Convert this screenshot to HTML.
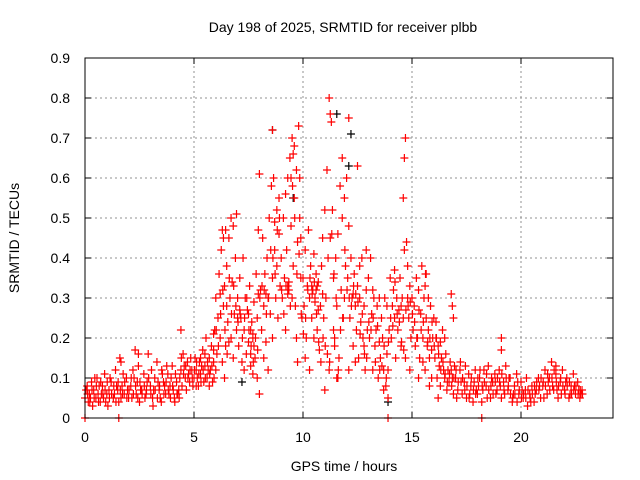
<!DOCTYPE html>
<html><head><meta charset="utf-8"><style>
html,body{margin:0;padding:0;background:#fff;}
svg{display:block;font-family:"Liberation Sans",sans-serif;}
</style></head><body>
<svg id="chart" width="640" height="480" viewBox="0 0 640 480" xmlns="http://www.w3.org/2000/svg">
<rect width="640" height="480" fill="#fff"/>
<text x="343" y="32" font-size="14" text-anchor="middle" fill="#000">Day 198 of 2025, SRMTID for receiver plbb</text>
<text x="344" y="471" font-size="14" text-anchor="middle" fill="#000">GPS time / hours</text>
<text transform="translate(19,238) rotate(-90)" font-size="14" text-anchor="middle" fill="#000">SRMTID / TECUs</text>
<g id="grid"></g>
<g id="ticks"></g>
<g id="black"></g>
<g id="red"></g>
<rect x="85" y="58" width="528" height="360" fill="none" stroke="#000" stroke-width="1"/>
</svg>
<script>
const xTicks = [0, 5, 10, 15, 20];
const yTicks = [0, 0.1, 0.2, 0.3, 0.4, 0.5, 0.6, 0.7, 0.8, 0.9];
const yTickLabels = ["0","0.1","0.2","0.3","0.4","0.5","0.6","0.7","0.8","0.9"];
const redPts = [
[0.0,.05],[0.1,.08],[0.15,.04],[0.2,.06],[0.3,.09],[0.35,.03],[0.4,.07],[0.5,.05],[0.55,.1],[0.6,.06],[0.7,.04],[0.8,.08],[0.85,.05],[0.9,.11],[1.0,.06],[1.05,.03],[1.1,.07],[1.2,.09],[1.3,.05],[1.4,.12],[1.5,.07],[1.55,.04],[1.6,.15],[1.7,.08],[1.8,.06],[1.9,.1],[2.0,.05],[2.1,.08],[2.2,.12],[2.3,.17],[2.35,.06],[2.4,.09],[2.5,.04],[2.6,.07],[2.7,.11],[2.8,.06],[2.9,.16],[3.0,.08],[3.1,.05],[3.2,.1],[3.3,.14],[3.4,.07],[3.5,.04],[3.6,.09],[3.7,.06],[3.8,.11],[3.9,.08],[4.0,.13],[4.1,.05],[4.2,.09],[4.3,.07],[4.4,.12],[4.5,.16],[4.6,.1],[4.7,.14],[4.8,.09],[4.9,.12],
[0.05,.07],[0.25,.05],[0.45,.1],[0.65,.08],[0.75,.06],[0.95,.04],[1.15,.1],[1.35,.06],[1.45,.08],[1.65,.05],[1.75,.11],[1.95,.07],[2.15,.05],[2.25,.1],[2.45,.13],[2.55,.07],[2.75,.05],[2.85,.09],[3.05,.12],[3.15,.07],[3.35,.09],[3.45,.05],[3.55,.11],[3.65,.08],[3.75,.13],[3.85,.06],[3.95,.1],[4.05,.07],[4.15,.11],[4.25,.06],[4.35,.1],[4.45,.08],[4.55,.13],[4.65,.07],[4.75,.11],[4.85,.15],[4.95,.08],[4.4,.22],[1.65,.14],[2.45,.16],
[0.12,.06],[0.22,.04],[0.32,.07],[0.42,.05],[0.52,.08],[0.62,.04],[0.72,.09],[0.82,.06],[0.92,.07],[1.02,.09],[1.12,.05],[1.22,.06],[1.32,.08],[1.42,.04],[1.52,.09],[1.62,.07],[1.72,.06],[1.82,.09],[1.92,.05],[2.02,.07],[2.12,.1],[2.22,.06],[2.32,.08],[2.42,.05],[2.52,.09],[2.62,.06],[2.72,.08],[2.82,.07],[2.92,.1],[3.02,.06],[3.12,.03],[3.22,.07],[3.32,.05],[3.42,.08],[3.52,.12],[3.62,.06],[3.72,.09],[3.82,.07],[3.92,.05],[4.02,.08],[4.12,.04],[4.22,.06],[4.32,.05],[4.42,.15],[4.52,.11],[4.62,.13],[4.72,.1],[4.82,.12],[4.92,.1],
[5.0,.1],[5.05,.15],[5.1,.12],[5.2,.08],[5.25,.14],[5.3,.11],[5.4,.17],[5.45,.09],[5.5,.13],[5.55,.2],[5.6,.1],[5.7,.15],[5.75,.12],[5.8,.18],[5.85,.09],[5.9,.14],[5.95,.22],[5.15,.1],[5.35,.13],[5.65,.12],[5.9,.21],
[5.02,.12],[5.12,.14],[5.22,.11],[5.32,.09],[5.42,.12],[5.52,.1],[5.62,.14],[5.72,.11],[5.82,.13],[5.92,.1],[5.1,.08],[5.3,.15],[5.5,.16],[5.7,.08],[5.9,.17],
[6.0,.3],[6.05,.16],[6.1,.25],[6.15,.36],[6.2,.2],[6.25,.42],[6.3,.14],[6.35,.28],[6.4,.33],[6.45,.18],[6.5,.38],[6.55,.24],[6.6,.45],[6.65,.3],[6.7,.2],[6.75,.34],[6.8,.48],[6.85,.26],[6.9,.4],[6.95,.22],[6.0,.12],[6.2,.31],[6.4,.1],[6.6,.19],[6.8,.15],[6.5,.28],[6.7,.5],[6.3,.47],[6.95,.51],
[6.02,.22],[6.12,.18],[6.22,.26],[6.32,.32],[6.42,.22],[6.52,.16],[6.62,.35],[6.72,.26],[6.82,.33],[6.92,.28],[6.35,.45],[6.45,.47],
[7.0,.3],[7.05,.18],[7.1,.35],[7.15,.25],[7.2,.14],[7.25,.4],[7.3,.22],[7.35,.3],[7.4,.16],[7.45,.27],[7.5,.19],[7.55,.33],[7.6,.13],[7.65,.24],[7.7,.2],[7.75,.29],[7.8,.15],[7.85,.36],[7.9,.25],[7.95,.31],[7.3,.12],[7.5,.26],[7.7,.11],[7.9,.1],[7.95,.47],[8.0,.06],[7.6,.22],[7.75,.18],
[7.02,.24],[7.12,.26],[7.22,.2],[7.32,.25],[7.42,.3],[7.52,.22],[7.62,.18],[7.72,.14],[7.82,.2],[7.92,.17],[7.0,.25],[7.1,.27],[7.6,.16],[7.7,.21],
[8.0,.61],[8.05,.32],[8.1,.22],[8.15,.45],[8.2,.28],[8.25,.36],[8.3,.19],[8.35,.4],[8.4,.3],[8.45,.5],[8.5,.26],[8.55,.58],[8.6,.35],[8.65,.6],[8.7,.42],[8.75,.3],[8.8,.52],[8.85,.25],[8.9,.46],[8.95,.33],[8.2,.15],[8.4,.12],[8.6,.2],[8.8,.38],[8.9,.55],[8.3,.31],[8.7,.49],[8.6,.72],
[8.02,.3],[8.12,.33],[8.22,.32],[8.32,.26],[8.42,.3],[8.52,.42],[8.62,.4],[8.72,.36],[8.82,.47],[8.92,.5],
[9.0,.4],[9.05,.3],[9.1,.5],[9.15,.35],[9.2,.56],[9.25,.42],[9.3,.6],[9.35,.32],[9.4,.65],[9.45,.48],[9.5,.7],[9.55,.38],[9.6,.55],[9.65,.28],[9.7,.62],[9.75,.44],[9.8,.73],[9.85,.5],[9.9,.35],[9.95,.25],[9.2,.22],[9.5,.3],[9.7,.2],[9.85,.6],[9.9,.45],[9.3,.33],[9.6,.68],[9.75,.14],
[9.02,.32],[9.12,.26],[9.22,.33],[9.32,.32],[9.42,.28],[9.52,.58],[9.62,.5],[9.72,.36],[9.82,.41],[9.92,.26],[9.3,.31],[9.35,.34],[9.45,.6],[9.55,.66],
[10.0,.35],[10.05,.28],[10.1,.42],[10.15,.2],[10.2,.33],[10.25,.47],[10.3,.3],[10.35,.38],[10.4,.25],[10.45,.32],[10.5,.41],[10.55,.29],[10.6,.36],[10.65,.22],[10.7,.34],[10.75,.17],[10.8,.28],[10.85,.38],[10.9,.45],[10.95,.25],[10.1,.15],[10.3,.12],[10.5,.2],[10.7,.27],[10.9,.31],[10.4,.33],[10.6,.32],
[10.02,.21],[10.12,.25],[10.22,.32],[10.32,.35],[10.42,.31],[10.52,.34],[10.62,.26],[10.72,.19],[10.82,.14],[10.92,.2],[10.55,.3],[10.65,.33],
[11.0,.52],[11.05,.3],[11.1,.62],[11.15,.4],[11.2,.8],[11.25,.45],[11.3,.74],[11.35,.52],[11.4,.35],[11.45,.2],[11.5,.4],[11.55,.28],[11.6,.46],[11.65,.15],[11.7,.58],[11.75,.32],[11.8,.65],[11.85,.25],[11.9,.55],[11.95,.38],[11.2,.12],[11.4,.22],[11.6,.1],[11.8,.5],[11.9,.3],[11.0,.07],[11.25,.76],
[11.02,.18],[11.12,.16],[11.22,.14],[11.32,.46],[11.42,.36],[11.52,.3],[11.62,.12],[11.72,.22],[11.82,.25],[11.92,.42],[11.45,.18],[11.55,.1],
[12.0,.6],[12.05,.35],[12.1,.48],[12.15,.25],[12.2,.4],[12.25,.3],[12.3,.18],[12.35,.36],[12.4,.28],[12.45,.22],[12.5,.33],[12.55,.15],[12.6,.3],[12.65,.24],[12.7,.4],[12.75,.2],[12.8,.28],[12.85,.12],[12.9,.32],[12.95,.22],[12.1,.12],[12.4,.14],[12.6,.38],[12.8,.18],[12.9,.42],[12.1,.75],[12.5,.63],[12.3,.31],
[12.02,.32],[12.12,.3],[12.22,.28],[12.32,.33],[12.42,.31],[12.52,.29],[12.62,.21],[12.72,.26],[12.82,.16],[12.92,.15],
[13.0,.35],[13.05,.2],[13.1,.4],[13.15,.26],[13.2,.12],[13.25,.3],[13.3,.18],[13.35,.22],[13.4,.28],[13.45,.1],[13.5,.3],[13.55,.15],[13.6,.25],[13.65,.2],[13.7,.12],[13.75,.3],[13.8,.08],[13.85,.16],[13.9,.05],[13.95,.22],[13.2,.32],[13.5,.19],[13.7,.07],[13.9,.12],[13.85,.28],
[13.02,.24],[13.12,.22],[13.22,.25],[13.32,.14],[13.42,.23],[13.52,.12],[13.62,.13],[13.72,.18],[13.82,.1],[13.92,.19],
[14.0,.35],[14.05,.2],[14.1,.28],[14.15,.32],[14.2,.25],[14.25,.15],[14.3,.3],[14.35,.22],[14.4,.27],[14.45,.35],[14.5,.18],[14.55,.3],[14.6,.55],[14.65,.65],[14.7,.7],[14.75,.44],[14.8,.3],[14.85,.25],[14.9,.33],[14.95,.2],[14.6,.25],[14.7,.15],[14.8,.38],[14.9,.12],[14.5,.28],[14.65,.42],[14.2,.37],
[14.02,.25],[14.12,.23],[14.22,.34],[14.32,.26],[14.42,.24],[14.52,.19],[14.62,.17],[14.72,.27],[14.82,.28],[14.92,.29],
[15.0,.3],[15.05,.22],[15.1,.28],[15.15,.18],[15.2,.35],[15.25,.2],[15.3,.32],[15.35,.15],[15.4,.26],[15.45,.38],[15.5,.2],[15.55,.3],[15.6,.12],[15.65,.25],[15.7,.18],[15.75,.22],[15.8,.15],[15.85,.28],[15.9,.1],[15.95,.2],[15.3,.1],[15.6,.33],[15.8,.08],[15.9,.17],[15.5,.14],
[15.02,.26],[15.12,.24],[15.22,.2],[15.32,.27],[15.42,.22],[15.52,.24],[15.62,.36],[15.72,.19],[15.82,.2],[15.92,.24],[15.65,.36],[15.75,.3],
[16.0,.25],[16.05,.15],[16.1,.2],[16.15,.1],[16.2,.18],[16.25,.13],[16.3,.08],[16.35,.15],[16.4,.22],[16.45,.12],[16.5,.1],[16.55,.16],[16.6,.07],[16.65,.12],[16.7,.09],[16.75,.14],[16.8,.31],[16.85,.1],[16.9,.06],[16.95,.13],[16.2,.05],[16.5,.2],[16.8,.12],[16.9,.25],[16.85,.28],
[16.02,.18],[16.12,.2],[16.22,.16],[16.32,.12],[16.42,.14],[16.52,.11],[16.62,.09],[16.72,.11],[16.82,.08],[16.92,.1],[16.1,.24],[16.3,.19],
[17.0,.1],[17.1,.07],[17.2,.12],[17.3,.06],[17.4,.09],[17.5,.05],[17.6,.11],[17.7,.08],[17.8,.04],[17.9,.12],[17.05,.05],[17.25,.09],[17.45,.13],[17.65,.06],[17.85,.09],[17.95,.07],
[17.02,.12],[17.12,.09],[17.22,.14],[17.32,.1],[17.42,.07],[17.52,.08],[17.62,.05],[17.72,.1],[17.82,.07],[17.92,.06],
[18.0,.06],[18.1,.1],[18.2,.04],[18.3,.12],[18.4,.08],[18.5,.13],[18.6,.05],[18.7,.09],[18.8,.11],[18.9,.07],[19.0,.12],[19.1,.05],[19.2,.09],[19.3,.13],[19.4,.07],[19.5,.1],[19.6,.04],[19.7,.08],[19.8,.11],[19.9,.06],[20.0,.09],[20.1,.05],[20.2,.07],[20.3,.03],[20.4,.06],[20.5,.08],[20.6,.04],[20.7,.07],[20.8,.1],[20.9,.05],[21.0,.08],[21.1,.12],[21.2,.06],[21.3,.1],[21.4,.14],[21.5,.07],[21.6,.11],[21.7,.05],[21.8,.09],[21.9,.12],[22.0,.07],[22.1,.1],[22.2,.05],[22.3,.08],[22.4,.11],[22.5,.06],[22.6,.09],[22.7,.05],[22.8,.07],
[18.05,.08],[18.25,.07],[18.45,.05],[18.65,.1],[18.85,.06],[19.05,.08],[19.25,.06],[19.45,.1],[19.65,.06],[19.85,.09],[20.05,.07],[20.25,.1],[20.45,.04],[20.65,.06],[20.85,.08],[21.05,.05],[21.25,.09],[21.45,.08],[21.65,.07],[21.85,.06],[22.05,.09],[22.25,.06],[22.45,.08],[22.65,.07],[22.75,.06],[19.1,.2],[19.1,.17],[21.6,.13],
[18.02,.1],[18.12,.12],[18.22,.08],[18.32,.09],[18.42,.11],[18.52,.07],[18.62,.08],[18.72,.06],[18.82,.09],[18.92,.1],[19.02,.09],[19.12,.11],[19.22,.07],[19.32,.1],[19.42,.08],[19.52,.06],[19.62,.05],[19.72,.06],[19.82,.04],[19.92,.07],[20.02,.05],[20.12,.06],[20.22,.05],[20.32,.07],[20.42,.05],[20.52,.06],[20.62,.08],[20.72,.09],[20.82,.07],[20.92,.1],[21.02,.09],[21.12,.08],[21.22,.11],[21.32,.07],[21.42,.1],[21.52,.12],[21.62,.09],[21.72,.08],[21.82,.1],[21.92,.08],[22.02,.06],[22.12,.08],[22.22,.09],[22.32,.06],[22.42,.07],[22.52,.08],[22.62,.06],[22.72,.07],[22.82,.06],
[18.2,0],[13.9,0],[0.0,0],[1.55,0]
];
const blackPts = [
[8.6,.72],[11.55,.76],[12.2,.71],[12.1,.63],[9.55,.55],[13.9,.04],[7.2,.09]
];
const NS = "http://www.w3.org/2000/svg";
const X0 = 85, X1 = 613, Y0 = 418, Y1 = 58, XMAX = 24.22, YMAX = 0.9;
function xs(v){ return X0 + v / XMAX * (X1 - X0); }
function ys(v){ return Y0 - v / YMAX * (Y0 - Y1); }
const grid = document.getElementById('grid');
const ticks = document.getElementById('ticks');
function mk(tag, attrs, parent){ const e = document.createElementNS(NS, tag); for (const k in attrs) e.setAttribute(k, attrs[k]); parent.appendChild(e); return e; }
yTicks.forEach((v, i) => {
  const y = ys(v);
  if (i > 0 && i < yTicks.length - 1) {
    const g = mk('line', {x1: X0, x2: X1, y1: y, y2: y, stroke: '#909090', 'stroke-dasharray': '2,3'}, grid);
    
    
  }
  mk('line', {x1: X0, x2: X0 + 6, y1: y, y2: y, stroke: '#000'}, ticks);
  mk('line', {x1: X1, x2: X1 - 6, y1: y, y2: y, stroke: '#000'}, ticks);
  const t = mk('text', {x: 70, y: y + 5, 'font-size': 14, 'text-anchor': 'end', fill: '#000'}, ticks);
  t.textContent = yTickLabels[i];
  
  
});
xTicks.forEach(v => {
  const x = xs(v);
  if (v > 0) {
    const g = mk('line', {x1: x, x2: x, y1: Y0, y2: Y1, stroke: '#909090', 'stroke-dasharray': '2,3'}, grid);
    
    
  }
  mk('line', {x1: x, x2: x, y1: Y0, y2: Y0 - 6, stroke: '#000'}, ticks);
  mk('line', {x1: x, x2: x, y1: Y1, y2: Y1 + 6, stroke: '#000'}, ticks);
  const t = mk('text', {x: x, y: 442, 'font-size': 14, 'text-anchor': 'middle', fill: '#000'}, ticks);
  t.textContent = String(v);
  
  
});
function plot(pts, color, gid, name){
  const g = document.getElementById(gid);
  let d = '';
  pts.forEach(p => {
    const x = xs(p[0]), y = ys(p[1]);
    d += 'M' + (x - 4) + ' ' + y + 'h8M' + x + ' ' + (y - 4) + 'v8';
  });
  const path = mk('path', {d: d, stroke: color, 'stroke-width': 1.2, fill: 'none'}, g);
  
  
}
plot(blackPts, '#000', 'black', 'black-points');
plot(redPts, '#ff0000', 'red', 'red-points');
</script>
</body></html>
